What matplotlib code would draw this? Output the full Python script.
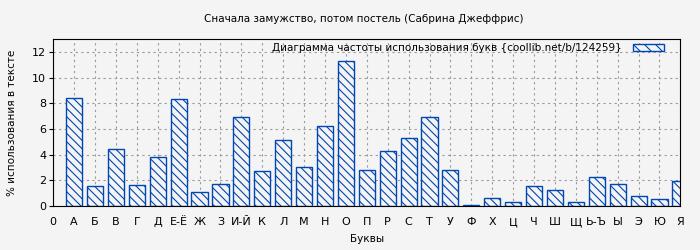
import matplotlib
matplotlib.use("Agg")
import matplotlib.pyplot as plt

# letter frequency data
letters = ["А", "Б", "В", "Г", "Д", "Е-Ё", "Ж", "З", "И-Й", "К", "Л", "М", "Н", "О", "П",
           "Р", "С", "Т", "У", "Ф", "Х", "Ц", "Ч", "Ш", "Щ", "Ь-Ъ", "Ы", "Э", "Ю", "Я"]
percent = [8.39, 1.56, 4.44, 1.64, 3.82, 8.31, 1.07, 1.69, 6.91, 2.70, 5.12, 3.04, 6.21, 11.28, 2.78,
           4.26, 5.27, 6.91, 2.78, 0.08, 0.60, 0.29, 1.56, 1.22, 0.29, 2.26, 1.69, 0.78, 0.52, 1.92]

title = "Сначала замужство, потом постель (Сабрина Джеффрис)"
legend_label = "Диаграмма частоты использования букв {coollib.net/b/124259}"

bg = "#f4f4f4"
blue = "#0047b3"
plt.rcParams['hatch.color'] = blue
plt.rcParams['hatch.linewidth'] = 0.8

fig = plt.figure(figsize=(7, 2.5), dpi=100, facecolor=bg)
ax = fig.add_axes([0.076, 0.176, 0.896, 0.668])
ax.set_facecolor(bg)

x = list(range(1, len(letters) + 1))
ax.bar(x, percent, width=0.77, facecolor=bg, edgecolor=blue, hatch="\\\\\\\\",
       linewidth=1.0, label=legend_label, zorder=2)

ax.set_xlim(0, 30)
ax.set_ylim(0, 13)
ax.set_xticks([0] + x)
ax.set_xticklabels(["0"] + letters)
ax.set_yticks(range(0, 13, 2))
ax.tick_params(labelsize=8, direction="out")
ax.tick_params(axis="x", length=0, pad=8)
ax.tick_params(axis="y", length=3, pad=2)
ax.grid(True, color="#999999", linestyle=(0, (2, 3)), linewidth=0.8, zorder=0)
ax.set_axisbelow(True)

ax.set_xlabel("Буквы", fontsize=7.5, labelpad=5)
ax.set_ylabel("% использования в тексте", fontsize=7.5, labelpad=11)
fig.text(0.52, 0.925, title, ha="center", va="center", fontsize=7.5)

leg = ax.legend(loc="upper right", bbox_to_anchor=(0.985, 1.02), frameon=False, fontsize=7.5,
                markerfirst=False, handlelength=2.9, handleheight=0.6, borderaxespad=0.3,
                handletextpad=1.15)
for p in leg.get_patches():
    p.set_hatch("\\\\\\")

fig.savefig("out.png", facecolor=bg)
